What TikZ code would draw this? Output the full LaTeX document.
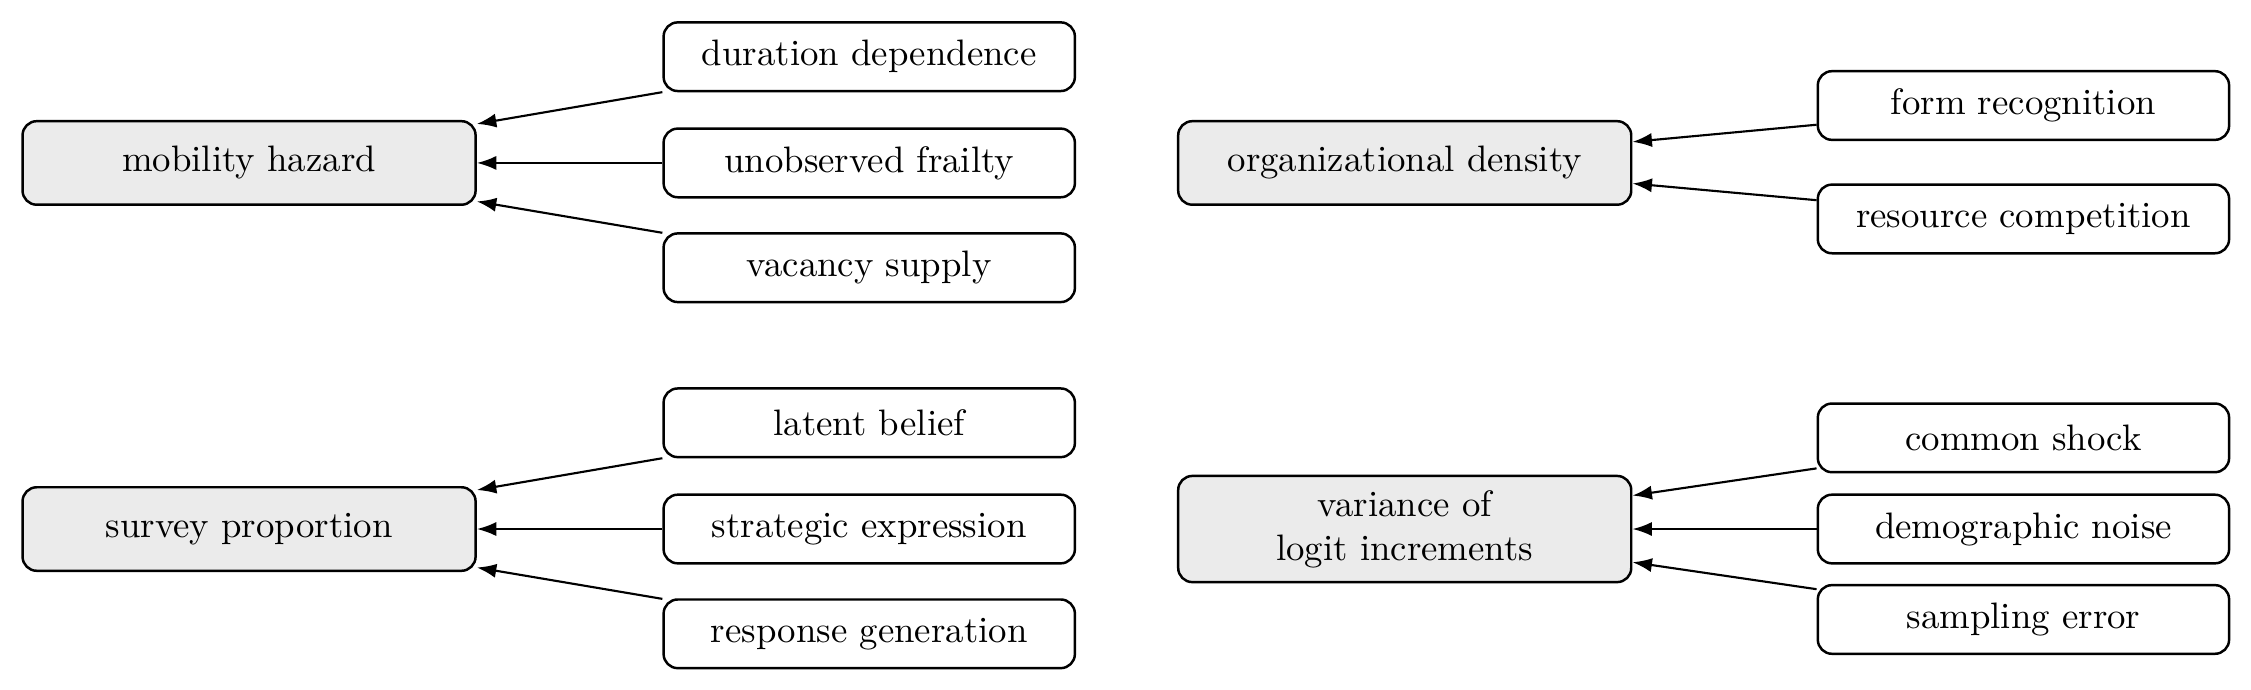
\documentclass[tikz,border=0pt]{standalone}
\usetikzlibrary{arrows.meta}
\tikzset{
  srcbox/.style={draw, line width=0.7pt, rounded corners=4pt, minimum width=116.2pt, minimum height=19.4pt, inner sep=2pt, font=\fontsize{10.4}{12.5}\selectfont},
  tgtbox/.style={draw, line width=0.7pt, rounded corners=4pt, fill=black!8, minimum width=128pt, minimum height=23.6pt, inner sep=2pt, align=center, font=\fontsize{10.4}{12.5}\selectfont},
  arr/.style={line width=0.6pt, -{Latex[length=5.5pt,width=4pt]}}
}
\begin{document}
\begin{tikzpicture}[x=0.4056pt, y=-0.4056pt]
\useasboundingbox (0,0) rectangle (1568,480);
% group 1
\node[tgtbox] (haz) at (173.5,113.5) {mobility hazard};
\node[srcbox] (dur) at (605.5,39.5) {duration dependence};
\node[srcbox] (fra) at (605.5,113.5) {unobserved frailty};
\node[srcbox] (vac) at (605.5,186.5) {vacancy supply};
\draw[arr] (dur) -- (haz);
\draw[arr] (fra) -- (haz);
\draw[arr] (vac) -- (haz);
% group 2
\node[tgtbox] (org) at (978.5,113.5) {organizational density};
\node[srcbox] (frm) at (1409.5,73.5) {form recognition};
\node[srcbox] (res) at (1409.5,152.5) {resource competition};
\draw[arr] (frm) -- (org);
\draw[arr] (res) -- (org);
% group 3
\node[tgtbox] (sur) at (173.5,368.5) {survey proportion};
\node[srcbox] (lat) at (605.5,294.5) {latent belief};
\node[srcbox] (str) at (605.5,368.5) {strategic expression};
\node[srcbox] (rsp) at (605.5,441.5) {response generation};
\draw[arr] (lat) -- (sur);
\draw[arr] (str) -- (sur);
\draw[arr] (rsp) -- (sur);
% group 4
\node[tgtbox, minimum height=30pt] (var) at (978.5,368.5) {variance of\\logit increments};
\node[srcbox] (com) at (1409.5,305) {common shock};
\node[srcbox] (dem) at (1409.5,368.5) {demographic noise};
\node[srcbox] (smp) at (1409.5,431.5) {sampling error};
\draw[arr] (com) -- (var);
\draw[arr] (dem) -- (var);
\draw[arr] (smp) -- (var);
\end{tikzpicture}
\end{document}
